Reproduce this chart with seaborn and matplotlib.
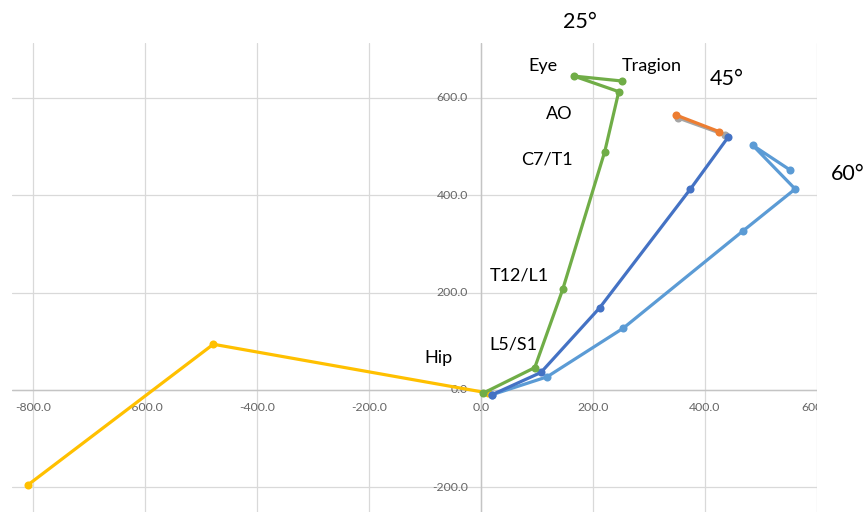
import matplotlib
matplotlib.use("Agg")
import matplotlib.pyplot as plt
import matplotlib.transforms as mtransforms
import seaborn as sns

# Joint positions (mm) in the sagittal plane
leg_x = [-809, -478, 12]
leg_y = [-195, 94, -6]

spine25_x = [3, 96, 146, 221, 246, 166, 251]
spine25_y = [-7, 46, 207, 490, 613, 645, 635]

spine45_x = [19, 107, 212, 374, 441]
spine45_y = [-10, 36, 169, 413, 519]

head45a_x = [436, 352]
head45a_y = [524, 559]
head45b_x = [348, 425]
head45b_y = [565, 531]

spine60_x = [19, 118, 254, 468, 561, 485, 552]
spine60_y = [-10, 27, 127, 327, 413, 503, 452]

x_ticks = [-800, -600, -400, -200, 0, 200, 400, 600]
y_ticks = [-200, 0, 200, 400, 600]

joint_labels = ["Eye", "Tragion", "AO", "C7/T1", "T12/L1", "L5/S1", "Hip"]
joint_label_x = [111, 305, 139, 118, 68, 58, -76]
joint_label_y = [656, 656, 557, 464, 226, 84, 56]

angle_labels = ["25°", "45°", "60°"]
angle_label_x = [177, 439, 655]
angle_label_y = [743, 627, 432]

sns.set_style("white")
plt.rcParams["font.family"] = ["Lato", "DejaVu Sans"]

fig = plt.figure(figsize=(8.65, 5.12), dpi=100)
ax = fig.add_axes([12 / 865, 0.0, (817 - 12) / 865, (512 - 43) / 512])
ax.set_xlim(-837.5, 600)
ax.set_ylim(-250.7, 713)

# grid and zero axes
ax.set_xticks(x_ticks)
ax.set_yticks(y_ticks)
ax.tick_params(labelbottom=False, labelleft=False, length=0)
ax.grid(True, color="#d9d9d9", lw=0.9, zorder=0)
ax.set_axisbelow(True)
for s in ax.spines.values():
    s.set_visible(False)
ax.axhline(0, color="#c4c4c4", lw=1.0, zorder=1)
ax.axvline(0, color="#c4c4c4", lw=1.0, zorder=1)

series = [
    (leg_x, leg_y, "#FFC000"),
    (spine60_x, spine60_y, "#5B9BD5"),
    (head45a_x, head45a_y, "#A5A5A5"),
    (head45b_x, head45b_y, "#ED7D31"),
    (spine45_x, spine45_y, "#4472C4"),
    (spine25_x, spine25_y, "#70AD47"),
]
for i, (xs, ys, col) in enumerate(series):
    sns.lineplot(x=xs, y=ys, sort=False, estimator=None, color=col, lw=2.3,
                 marker="o", markersize=5.8, markeredgewidth=0, ax=ax, zorder=3 + i)

# tick labels placed along the zero axes
tick_col = "#666666"
off_x = mtransforms.ScaledTranslation(0, -18 / 100, fig.dpi_scale_trans)
for v in x_ticks:
    ax.text(v, 0, f"{v:.1f}", transform=ax.transData + off_x, ha="center",
            va="center", fontsize=8.8, color=tick_col, clip_on=True, zorder=2)
off_y = mtransforms.ScaledTranslation(-13 / 100, 0, fig.dpi_scale_trans)
for v in y_ticks:
    ax.text(0, v, f"{v:.1f}", transform=ax.transData + off_y, ha="right",
            va="center", fontsize=8.8, color=tick_col, clip_on=True, zorder=2)

for t, x, y in zip(joint_labels, joint_label_x, joint_label_y):
    ax.text(x, y, t, ha="center", va="baseline", fontsize=13, color="black",
            clip_on=False, zorder=20)
for t, x, y in zip(angle_labels, angle_label_x, angle_label_y):
    ax.text(x, y, t, ha="center", va="baseline", fontsize=15.5, color="black",
            clip_on=False, zorder=20)

fig.savefig("out.png", dpi=100)
